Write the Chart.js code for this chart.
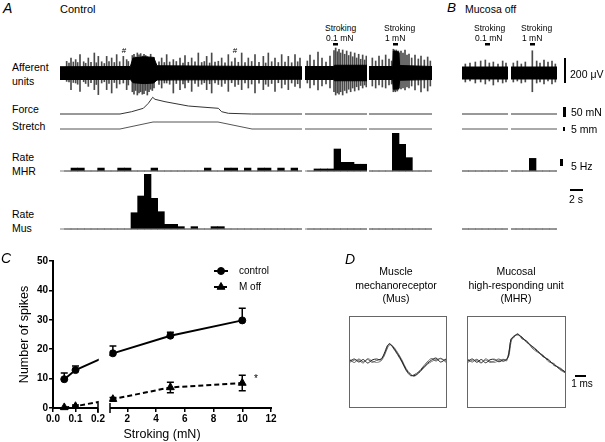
<!DOCTYPE html>
<html><head><meta charset="utf-8">
<script src="https://cdn.jsdelivr.net/npm/chart.js@4.4.1/dist/chart.umd.min.js"></script>
<style>
html,body{margin:0;padding:0;background:#fff;}
#fig{position:relative;width:605px;height:442px;overflow:hidden;font-family:"Liberation Sans",Arial,Helvetica,sans-serif;color:#000;}
#fig canvas{position:absolute;}
.t{position:absolute;white-space:nowrap;line-height:1;transform:translateY(-50%);}
.t.c{transform:translate(-50%,-50%);}
.t.it{font-style:italic;}
.sb{position:absolute;background:#000;}
.box{position:absolute;border:1px solid #666;box-sizing:border-box;}
.box canvas{left:0;top:0;}
</style></head><body><div id="fig"></div>
<script>
// ================= Panel C data =================
const strokingForces = [0.05, 0.1, 1, 5, 10];
const controlSpikes  = [9.8, 12.9, 18.6, 24.6, 29.8];
const controlSEM     = [2.1, 1.4, 2.5, 1.2, 4.1];
const mOffSpikes     = [0.2, 0.6, 3.0, 7.0, 8.5];
const mOffSEM        = [0, 0.4, 0.6, 1.8, 2.6];
const seriesNames    = ['control', 'M off'];
const xTickValues    = [0, 0.1, 0.2, 2, 4, 6, 8, 10, 12];
const yTickValues    = [0, 10, 20, 30, 40, 50];

// ================= Panel A (control, long record) =================
const aEnvT   = [-0.65, 9.9, 10.3, 12.0, 13.4, 13.9, 35.65];
const aEnvTop = [50, 52, 120, 130, 125, 58, 50];
const aEnvBot = [-52, -52, -78, -85, -80, -56, -50];
const aSpikeT   = [0.35,0.7,1.0,1.35,1.7,2.0,2.35,2.9,3.2,3.6,4.0,4.5,4.8,5.1,5.6,6.0,6.35,6.7,7.1,7.5,7.85,8.3,8.85,9.35,9.6,
  10.2,10.45,10.7,10.95,11.2,11.45,11.7,11.95,12.2,12.45,12.7,12.95,13.2,13.45,
  14.2,14.6,15.0,15.35,15.8,16.35,16.8,17.35,17.8,18.1,18.6,19.1,19.6,20.1,20.6,21.0,21.35,21.8,22.1,22.6,23.1,23.6,24.1,24.6,
  25.1,25.6,26.1,26.6,27.1,27.6,28.1,28.6,29.2,29.85,30.2,30.6,31.1,31.6,32.1,32.6,33.1,33.6,34.1,34.6,35.0,35.35];
const aSpikeTop = [93,80,120,88,107,84,147,90,78,120,86,160,82,133,90,76,133,92,120,84,147,90,133,107,92,
  140,150,128,160,145,155,135,150,140,130,120,150,110,125,
  90,120,84,147,88,107,92,120,80,139,86,120,90,160,84,92,133,80,160,88,94,120,82,147,
  90,120,86,160,84,120,92,147,86,133,80,160,90,120,84,147,88,133,82,147,90,120];
const aSpikeBot = [-67,-72,-133,-76,-80,-90,-147,-70,-84,-107,-78,-133,-92,-173,-80,-70,-133,-84,-160,-76,-120,-88,-80,-133,-96,
  -150,-170,-140,-176,-160,-150,-170,-165,-140,-176,-150,-130,-140,-120,
  -92,-120,-80,-80,-90,-160,-84,-133,-88,-120,-76,-147,-84,-107,-90,-78,-133,-86,-160,-80,-92,-107,-84,-147,
  -78,-107,-92,-133,-80,-120,-88,-160,-82,-133,-90,-107,-84,-147,-78,-120,-92,-133,-80,-107,-86,-120];
const aForceT   = [-0.65, 8.35, 10.1, 11.85, 12.6, 13.25, 13.6, 15.1, 18.6, 21.1, 23.1, 23.6, 24.6, 28.1, 35.65];
const aForceV   = [0, 0, 11.5, 28.5, 53.5, 83.5, 73.5, 61.5, 40, 33.5, 28.5, 11.5, 3.5, 0, 0];
const aStretchT = [-0.65, 8.35, 13.3, 23.05, 28.15, 35.65];
const aStretchV = [0, 0, 8.75, 8.75, 0, 0];
const aMhrRate  = [0,2,2,0,0, 2,0,0,2,2, 0,0,0,2,0, 0,0,0,0,0, 0,2,0,0,2, 2,0,2,0,2, 2,0,2,0,2, 0];
const aMusRate  = [0,0,0,0,0, 0,0,0,0,0, 11.1,22.5,37.3,20.9,11.8, 3.2,3.2,1.6,0,1.6, 0,0,1.6,1.6,0, 0,0,0,0,0, 0,0,0,0,0, 0];

// ================= Stroking 0.1 mN (control) =================
const s01EnvT   = [-1.35, 2.9, 3.1, 7.95];
const s01EnvTop = [52, 52, 62, 62];
const s01EnvBot = [-52, -52, -62, -62];
const s01SpikeT   = [-1.0,-0.6,0,0.6,1.2,1.8,2.4,3.0,3.25,3.5,3.75,4.0,4.3,4.6,4.9,5.2,5.5,5.8,6.1,6.4,6.7,7.0,7.3,7.6,7.85];
const s01SpikeTop = [96,144,104,168,120,88,136,180,200,170,190,160,184,150,176,140,168,130,160,120,150,110,144,104,136];
const s01SpikeBot = [-80,-120,-96,-136,-104,-88,-120,-150,-176,-160,-170,-150,-176,-140,-160,-130,-150,-120,-144,-110,-136,-100,-120,-96,-112];
const s01MhrRate  = [0, 1.4, 1.4, 1.4, 15, 5.9, 5.9, 4.6, 4.6];
const s01MusRate  = [0, 0, 0, 0, 0, 0, 0, 0, 0];

// ================= Stroking 1 mN (control) =================
const s1EnvT   = [-3.5, 0.05, 0.15, 0.95, 1.1, 5.95];
const s1EnvTop = [52, 52, 176, 168, 60, 52];
const s1EnvBot = [-52, -52, -130, -126, -58, -52];
const s1SpikeT   = [-3.0,-2.5,-2.0,-1.5,-1.0,-0.5,-0.1,0.15,0.3,0.45,0.6,0.75,0.9,1.05,1.3,1.6,1.9,2.2,2.5,2.9,3.4,3.9,4.3,4.8,5.3,5.7];
const s1SpikeTop = [120,96,136,104,144,112,96,190,184,176,184,168,176,160,176,160,184,144,152,120,144,112,136,104,128,96];
const s1SpikeBot = [-104,-120,-96,-112,-120,-96,-88,-150,-140,-150,-136,-144,-130,-120,-128,-120,-136,-112,-120,-104,-136,-96,-152,-120,-144,-104];
const s1MhrRate  = [0, 0, 0, 0, 25.7, 18.2, 9.1, 0, 0, 0];
const s1MusRate  = [0, 0, 0, 0, 0, 0, 0, 0, 0, 0];

// ================= Mucosa off, 0.1 mN =================
const b01EnvT   = [0, 6.9];
const b01EnvTop = [48, 48];
const b01EnvBot = [-48, -48];
const b01SpikeT   = [0.5,1.2,2.0,2.8,3.5,4.1,4.7,5.4,6.1,6.6];
const b01SpikeTop = [72,80,88,96,104,80,88,72,96,80];
const b01SpikeBot = [-72,-64,-80,-72,-88,-64,-96,-72,-80,-72];
const b01MhrRate  = [0, 0, 0, 0, 0, 0, 0];
const b01MusRate  = [0, 0, 0, 0, 0, 0, 0];

// ================= Mucosa off, 1 mN =================
const b1EnvT   = [-2.75, 4.15];
const b1EnvTop = [48, 48];
const b1EnvBot = [-48, -48];
const b1SpikeT   = [-2.4,-1.8,-1.2,-0.6,0.45,1.1,1.6,2.2,2.8,3.4,3.9];
const b1SpikeTop = [80,96,72,88,178,96,80,104,88,96,72];
const b1SpikeBot = [-72,-64,-80,-72,-150,-80,-72,-88,-64,-88,-72];
const b1MhrRate  = [0, 0, 0, 8.6, 0, 0, 0, 0];
const b1MusRate  = [0, 0, 0, 0, 0, 0, 0, 0];

// stroke marker level on the afferent trace (µV)
const strokeLevel = 230;

// ================= Panel D spike waveforms (ms, µV) =================
const musWaveT = [0,0.4,0.8,1.2,1.6,2.0,2.4,2.8,3.1,3.4,3.6,3.9,4.3,4.7,5.1,5.5,5.8,6.2,6.6,7.0,7.4,7.8,8.2,8.7];
const musWave1 = [0,16,-8,12,-16,8,16,10,60,125,136,112,60,0,-70,-112,-118,-96,-56,-20,8,24,-8,16];
const musWave2 = [10,-12,16,-8,12,-10,4,16,50,115,140,105,52,-8,-78,-118,-110,-88,-48,-8,20,0,22,-10];
const musWave3 = [-10,8,4,-16,20,0,-12,0,40,105,128,118,70,10,-62,-104,-122,-100,-64,-28,-4,12,18,4];
const mhrWaveT = [0,0.4,0.8,1.2,1.6,2.0,2.4,2.8,3.2,3.5,3.7,3.9,4.1,4.5,4.9,5.3,5.8,6.3,6.8,7.3,7.8,8.3,8.8];
const mhrWave1 = [0,16,-10,12,-14,10,14,-6,8,10,60,176,190,214,186,158,116,78,40,6,-28,-60,-88];
const mhrWave2 = [12,-8,14,-12,8,-10,0,16,-4,16,40,150,196,208,192,150,120,84,34,14,-36,-52,-86];
const mhrWave3 = [-10,6,4,-16,18,-2,-12,4,14,0,70,170,182,220,176,164,104,70,48,-6,-20,-68,-94];

// ================= helpers =================
Chart.defaults.font.family = '"Liberation Sans", Arial, Helvetica, sans-serif';
Chart.defaults.color = '#000';
const fig = document.getElementById('fig');
const pts = (xs, ys) => xs.map((x, i) => ({x, y: ys[i]}));
const binPts = (start, vals) => vals.map((v, i) => ({x: start + i + 0.5, y: v}));
function makeCanvas(left, top, w, h, parent) {
  const c = document.createElement('canvas');
  c.width = w; c.height = h;
  c.style.left = left + 'px'; c.style.top = top + 'px';
  c.style.width = w + 'px'; c.style.height = h + 'px';
  (parent || fig).appendChild(c);
  return c;
}
function label(text, x, y, size, cls) {
  const d = document.createElement('div');
  d.className = 't' + (cls ? ' ' + cls : '');
  d.textContent = text;
  d.style.left = x + 'px'; d.style.top = y + 'px'; d.style.fontSize = size + 'px';
  fig.appendChild(d);
}
function sbar(left, top, w, h) {
  const d = document.createElement('div');
  d.className = 'sb';
  Object.assign(d.style, {left: left + 'px', top: top + 'px', width: w + 'px', height: h + 'px'});
  fig.appendChild(d);
}
const pxLen = (scale, v) => Math.abs(scale.getPixelForValue(v) - scale.getPixelForValue(0));

// ================= trace panels (A and B) =================
const TRACE = {top: 38, height: 194};
const traceAxes = {
  yAff:     {zero: 73,  per: 8},
  yForce:   {zero: 114, per: 5},
  yStretch: {zero: 129, per: 1.25},
  yMHR:     {zero: 171, per: 0.682},
  yMus:     {zero: 229, per: 0.682}
};
const axisRange = a => ({min: -(TRACE.top + TRACE.height - a.zero) * a.per, max: (a.zero - TRACE.top) * a.per});
const twoTicks = s => { s.ticks = [{value: s.min}, {value: s.max}]; };

function tracePanel(p) {
  const cv = makeCanvas(p.left, TRACE.top, p.width, TRACE.height);
  const scales = {
    x:  {type: 'linear', display: false, min: p.tMin, max: p.tMax, offset: false, afterBuildTicks: twoTicks},
    xs: {type: 'linear', display: false, min: p.tMin, max: p.tMax, offset: false, afterBuildTicks: twoTicks}
  };
  for (const id in traceAxes) scales[id] = Object.assign({type: 'linear', display: false}, axisRange(traceAxes[id]));
  const line = (data, yAxisID, color, width, extra) => Object.assign({type: 'line', data, xAxisID: 'x', yAxisID,
    borderColor: color, borderWidth: width, pointRadius: 0, fill: false, tension: 0}, extra || {});
  const bars = (data, yAxisID) => ({type: 'bar', data, xAxisID: 'x', yAxisID, backgroundColor: '#000', borderWidth: 0,
    barPercentage: 1, categoryPercentage: 1, grouped: false});
  const flat = [p.tMin, p.tMax];
  const ds = [
    line(pts(p.envT, p.envTop), 'yAff', '#000', 1, {fill: '+1', backgroundColor: '#000'}),
    line(pts(p.envT, p.envBot), 'yAff', '#000', 1),
    {type: 'bar', data: p.spT.map((t, i) => ({x: t, y: [p.spBot[i], p.spTop[i]]})), xAxisID: 'xs', yAxisID: 'yAff',
      backgroundColor: '#4a4a4a', borderWidth: 0, barThickness: 1, grouped: false},
    line(pts(p.forceT || flat, p.forceV || [0, 0]), 'yForce', '#333', 1),
    line(pts(p.stretchT || flat, p.stretchV || [0, 0]), 'yStretch', '#555', 1),
    line(pts(flat, [0, 0]), 'yMHR', '#808080', 1),
    bars(binPts(p.binStart, p.mhr), 'yMHR'),
    line(pts(flat, [0, 0]), 'yMus', '#808080', 1),
    bars(binPts(p.binStart, p.mus), 'yMus')
  ];
  if (p.stroke) ds.push(line(pts(p.stroke, [strokeLevel, strokeLevel]), 'yAff', '#000', 2.5));
  return new Chart(cv, {type: 'line', data: {datasets: ds}, options: {
    responsive: false, animation: false, devicePixelRatio: 1, events: [], layout: {padding: 0},
    scales, plugins: {legend: {display: false}, tooltip: {enabled: false}}}});
}

const tracePanels = [
  {left: 60, width: 242, tMin: -0.65, tMax: 35.65, envT: aEnvT, envTop: aEnvTop, envBot: aEnvBot,
   spT: aSpikeT, spTop: aSpikeTop, spBot: aSpikeBot, forceT: aForceT, forceV: aForceV,
   stretchT: aStretchT, stretchV: aStretchV, binStart: 0, mhr: aMhrRate, mus: aMusRate, stroke: null},
  {left: 305, width: 62, tMin: -1.35, tMax: 7.95, envT: s01EnvT, envTop: s01EnvTop, envBot: s01EnvBot,
   spT: s01SpikeT, spTop: s01SpikeTop, spBot: s01SpikeBot, binStart: -1, mhr: s01MhrRate, mus: s01MusRate, stroke: [2.85, 3.6]},
  {left: 369, width: 63, tMin: -3.5, tMax: 5.95, envT: s1EnvT, envTop: s1EnvTop, envBot: s1EnvBot,
   spT: s1SpikeT, spTop: s1SpikeTop, spBot: s1SpikeBot, binStart: -4, mhr: s1MhrRate, mus: s1MusRate, stroke: [0.1, 0.85]},
  {left: 462, width: 46, tMin: 0, tMax: 6.9, envT: b01EnvT, envTop: b01EnvTop, envBot: b01EnvBot,
   spT: b01SpikeT, spTop: b01SpikeTop, spBot: b01SpikeBot, binStart: 0, mhr: b01MhrRate, mus: b01MusRate, stroke: [3.45, 4.2]},
  {left: 511, width: 46, tMin: -2.75, tMax: 4.15, envT: b1EnvT, envTop: b1EnvTop, envBot: b1EnvBot,
   spT: b1SpikeT, spTop: b1SpikeTop, spBot: b1SpikeBot, binStart: -3, mhr: b1MhrRate, mus: b1MusRate, stroke: [0.1, 0.85]}
];
const traceCharts = tracePanels.map(tracePanel);

// ================= Panel C: broken x axis scale =================
class BrokenLinearScale extends Chart.LinearScale {
  static id = 'brokenLinear';
  static defaults = {};
  _frac(v) {
    const o = this.options;
    const total = o.seg1Weight + o.gapWeight + o.seg2Weight;
    if (v <= o.seg1Max) return (v - o.seg1Min) / (o.seg1Max - o.seg1Min) * o.seg1Weight / total;
    if (v >= o.seg2Min) return (o.seg1Weight + o.gapWeight + (v - o.seg2Min) / (o.seg2Max - o.seg2Min) * o.seg2Weight) / total;
    return (o.seg1Weight + (v - o.seg1Max) / (o.seg2Min - o.seg1Max) * o.gapWeight) / total;
  }
  getPixelForValue(v) { return (v === null || v === undefined) ? NaN : this.getPixelForDecimal(this._frac(v)); }
  getValueForPixel(px) {
    const o = this.options;
    const total = o.seg1Weight + o.gapWeight + o.seg2Weight;
    const f = this.getDecimalForPixel(px) * total;
    if (f <= o.seg1Weight) return o.seg1Min + f / o.seg1Weight * (o.seg1Max - o.seg1Min);
    if (f >= o.seg1Weight + o.gapWeight) return o.seg2Min + (f - o.seg1Weight - o.gapWeight) / o.seg2Weight * (o.seg2Max - o.seg2Min);
    return o.seg1Max + (f - o.seg1Weight) / o.gapWeight * (o.seg2Min - o.seg1Max);
  }
  buildTicks() {
    this.start = this.min; this.end = this.max;
    return this.options.tickValues.map(value => ({value}));
  }
}
Chart.register(BrokenLinearScale);

const errorBarPlugin = {
  id: 'errorBars',
  beforeDatasetsDraw(chart) {
    const {ctx, scales: {x, y}} = chart;
    chart.data.datasets.forEach(ds => {
      if (!ds.errorBars) return;
      ctx.save(); ctx.strokeStyle = '#000'; ctx.lineWidth = 1.5;
      ds.data.forEach((pt, i) => {
        const e = ds.errorBars[i]; if (!e) return;
        const px = x.getPixelForValue(pt.x);
        const top = y.getPixelForValue(pt.y + e);
        const bot = y.getPixelForValue(ds.errorMode === 'both' ? pt.y - e : pt.y);
        ctx.beginPath();
        ctx.moveTo(px, top); ctx.lineTo(px, bot);
        ctx.moveTo(px - 3.5, top); ctx.lineTo(px + 3.5, top);
        if (ds.errorMode === 'both') { ctx.moveTo(px - 3.5, bot); ctx.lineTo(px + 3.5, bot); }
        ctx.stroke();
      });
      ctx.restore();
    });
  }
};
const brokenAxisPlugin = {
  id: 'brokenAxis',
  afterDatasetsDraw(chart) {
    const {ctx, chartArea: a} = chart, x = chart.scales.x, o = x.options;
    const g0 = x.getPixelForValue(o.seg1Max), g1 = x.getPixelForValue(o.seg2Min);
    ctx.save(); ctx.fillStyle = '#fff';
    ctx.fillRect(g0 + 0.75, a.top, g1 - g0 - 1.5, a.bottom - a.top - 1);
    ctx.restore();
  },
  afterDraw(chart) {
    const {ctx, chartArea: a} = chart, x = chart.scales.x, o = x.options;
    const y = a.bottom;
    ctx.save(); ctx.strokeStyle = '#000'; ctx.lineWidth = 2;
    ctx.beginPath();
    ctx.moveTo(x.getPixelForValue(o.seg1Min) - 1, y); ctx.lineTo(x.getPixelForValue(o.seg1Max), y);
    ctx.moveTo(x.getPixelForValue(o.seg2Min), y); ctx.lineTo(x.getPixelForValue(o.seg2Max) + 1, y);
    ctx.stroke();
    ctx.lineWidth = 1.5; ctx.beginPath();
    [o.seg1Max, o.seg2Min].forEach(v => { const p = x.getPixelForValue(v); ctx.moveTo(p, y - 5); ctx.lineTo(p, y + 5); });
    ctx.stroke(); ctx.restore();
  }
};
const cornerLegend = {
  id: 'cornerLegend',
  afterDraw(chart, args, opts) {
    const ctx = chart.ctx;
    chart.data.datasets.forEach((ds, i) => {
      const y = opts.y0 + i * opts.dy;
      ctx.save();
      ctx.strokeStyle = ds.borderColor; ctx.lineWidth = ds.borderWidth;
      ctx.setLineDash(ds.borderDash || []);
      ctx.beginPath(); ctx.moveTo(opts.x0, y); ctx.lineTo(opts.x0 + opts.len, y); ctx.stroke();
      ctx.setLineDash([]);
      ctx.fillStyle = ds.backgroundColor; ctx.strokeStyle = ds.borderColor; ctx.lineWidth = 1;
      Chart.helpers.drawPoint(ctx, {pointStyle: ds.pointStyle, radius: ds.pointRadius, rotation: 0, borderWidth: 1}, opts.x0 + opts.len / 2, y);
      ctx.fillStyle = '#000'; ctx.font = '10px "Liberation Sans", Arial, sans-serif';
      ctx.textBaseline = 'middle'; ctx.textAlign = 'left';
      ctx.fillText(ds.label, opts.x0 + opts.len + opts.gap, y);
      ctx.restore();
    });
  }
};

const cCanvas = makeCanvas(0, 250, 300, 192);
const tickFont = {size: 10, weight: 'bold'};
new Chart(cCanvas, {
  type: 'line',
  data: {datasets: [
    {label: seriesNames[0], data: pts(strokingForces, controlSpikes), borderColor: '#000', backgroundColor: '#000',
     borderWidth: 2, pointStyle: 'circle', pointRadius: 3.5, pointBorderWidth: 1, tension: 0, clip: 8,
     errorBars: controlSEM, errorMode: 'up'},
    {label: seriesNames[1], data: pts(strokingForces, mOffSpikes), borderColor: '#000', backgroundColor: '#000',
     borderWidth: 2, borderDash: [5, 3], pointStyle: 'triangle', pointRadius: 4.5, pointBorderWidth: 1, tension: 0, clip: 8,
     errorBars: mOffSEM, errorMode: 'both'}
  ]},
  options: {
    responsive: false, animation: false, devicePixelRatio: 1, events: [],
    layout: {padding: {left: 0, right: 29, top: 11, bottom: 0}},
    scales: {
      x: {type: 'brokenLinear', min: 0, max: 12, tickValues: xTickValues,
          seg1Min: 0, seg1Max: 0.2, seg2Min: 0.8, seg2Max: 12, seg1Weight: 45, gapWeight: 12, seg2Weight: 161,
          ticks: {autoSkip: false, maxRotation: 0, minRotation: 0, padding: 1, color: '#000', font: tickFont,
                  callback: v => v < 1 ? Number(v).toFixed(1) : String(v)},
          grid: {drawOnChartArea: false, tickLength: 4, color: '#000', lineWidth: 1.5},
          border: {display: false},
          title: {display: true, text: 'Stroking (mN)', color: '#000', font: {size: 12.5}, padding: {top: 0, bottom: 0}},
          afterFit: s => { s.height = 34; }},
      y: {min: 0, max: 50, afterBuildTicks: s => { s.ticks = yTickValues.map(value => ({value})); },
          ticks: {padding: 1, color: '#000', font: tickFont},
          grid: {drawOnChartArea: false, tickLength: 4, color: '#000', lineWidth: 1.5},
          border: {display: true, color: '#000', width: 2},
          title: {display: true, text: 'Number of spikes', color: '#000', font: {size: 12.5}, padding: {top: 17.5, bottom: 0}},
          afterFit: s => { s.width = 53; }}
    },
    plugins: {legend: {display: false}, tooltip: {enabled: false},
              cornerLegend: {x0: 214, y0: 21, dy: 16, len: 14, gap: 11}}
  },
  plugins: [errorBarPlugin, brokenAxisPlugin, cornerLegend]
});

// ================= Panel D waveform boxes =================
function wavePanel(left, top, w, h, t, traces, tMax) {
  const box = document.createElement('div');
  box.className = 'box';
  Object.assign(box.style, {left: left + 'px', top: top + 'px', width: w + 'px', height: h + 'px'});
  fig.appendChild(box);
  const cv = makeCanvas(0, 0, w - 2, h - 2, box);
  const colors = ['#222', '#555', '#777'];
  return new Chart(cv, {type: 'line',
    data: {datasets: traces.map((v, k) => ({data: pts(t, v), borderColor: colors[k], borderWidth: 1, pointRadius: 0, tension: 0.3}))},
    options: {responsive: false, animation: false, devicePixelRatio: 1, events: [], layout: {padding: 0},
      scales: {x: {type: 'linear', display: false, min: 0, max: tMax}, y: {display: false, min: -368, max: 352}},
      plugins: {legend: {display: false}, tooltip: {enabled: false}}}});
}
wavePanel(349, 316, 98, 92, musWaveT, [musWave1, musWave2, musWave3], 8.7);
const mhrBox = wavePanel(467, 316, 99, 92, mhrWaveT, [mhrWave1, mhrWave2, mhrWave3], 8.8);

// ================= scale bars (lengths from the chart scales) =================
const ref = traceCharts[4];
sbar(564, 58.3, 2, pxLen(ref.scales.yAff, 200));
sbar(563, 107.3, 2.5, pxLen(ref.scales.yForce, 50));
sbar(562.5, 127, 2, pxLen(ref.scales.yStretch, 5));
sbar(560, 159, 2.5, pxLen(ref.scales.yMHR, 5));
sbar(569.5, 188.5, pxLen(ref.scales.x, 2), 2);
sbar(575, 375, pxLen(mhrBox.scales.x, 1), 2);

// ================= text =================
[
  ['A', 3, 8, 14, 'it'], ['Control', 60, 9, 11], ['B', 447, 8, 13.5, 'it'], ['Mucosa off', 465, 8.5, 10.5],
  ['Afferent', 12, 67, 10.5], ['units', 12, 80.5, 10.5], ['Force', 12, 109, 10.5], ['Stretch', 12, 126, 10.5],
  ['Rate', 12, 157, 10.5], ['MHR', 12, 171, 10.5], ['Rate', 12, 214, 10.5], ['Mus', 12, 227.5, 10.5],
  ['Stroking', 325, 27.5, 8.5], ['0.1 mN', 326, 38, 8.5], ['Stroking', 384, 27.5, 8.5], ['1 mN', 385, 38, 8.5],
  ['Stroking', 474, 27.5, 8.5], ['0.1 mN', 475, 38, 8.5], ['Stroking', 521, 27.5, 8.5], ['1 mN', 522, 38, 8.5],
  ['#', 124, 51, 8, 'c'], ['#', 235, 51, 8, 'c'],
  ['200 \u03BCV', 570, 73.5, 10.5], ['50 mN', 571, 111.5, 10.5], ['5 mm', 571, 129, 10.5], ['5 Hz', 571, 166, 10.5],
  ['2 s', 576, 199, 10.5, 'c'],
  ['C', 1, 258, 14, 'it'], ['*', 256, 379, 10, 'c'],
  ['D', 345, 259, 14, 'it'],
  ['Muscle', 396, 271, 10.5, 'c'], ['mechanoreceptor', 396, 284.5, 10.5, 'c'], ['(Mus)', 396, 298, 10.5, 'c'],
  ['Mucosal', 516, 271, 10.5, 'c'], ['high-responding unit', 516, 284.5, 10.5, 'c'], ['(MHR)', 516, 298, 10.5, 'c'],
  ['1 ms', 582, 384, 10, 'c']
].forEach(l => label(l[0], l[1], l[2], l[3], l[4]));
</script></body></html>
